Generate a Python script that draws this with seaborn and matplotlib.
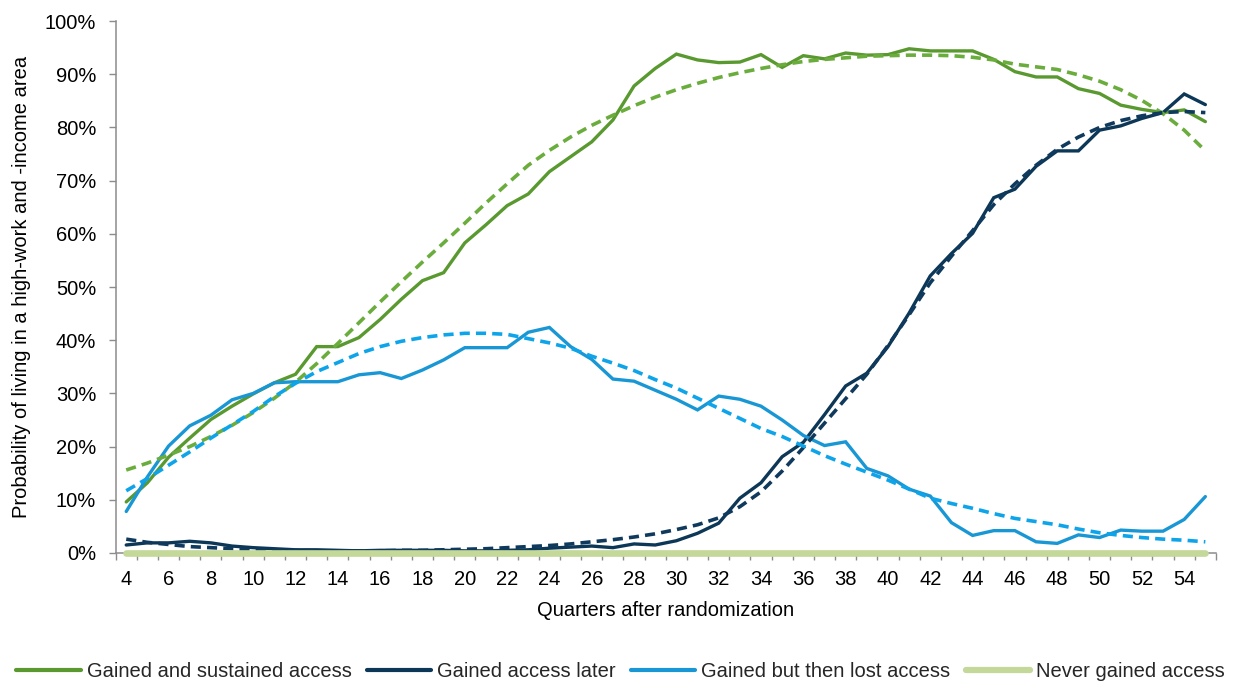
import matplotlib
matplotlib.use("Agg")
import matplotlib.pyplot as plt
from matplotlib.ticker import FixedLocator, FuncFormatter
import seaborn as sns
import pandas as pd

sns.set_theme(style="white")
plt.rcParams["font.family"] = ["Liberation Sans", "DejaVu Sans"]

quarters = list(range(4, 56))

# Share of households (in %) living in a high-work and -income area, by quarter
sustained = [9.6, 13.2, 18.0, 21.6, 25.1, 27.6, 29.9, 32.0, 33.6, 38.8,
             38.8, 40.5, 43.9, 47.7, 51.2, 52.7, 58.3, 61.7, 65.3, 67.5,
             71.7, 74.5, 77.3, 81.4, 87.8, 91.1, 93.8, 92.7, 92.2, 92.3,
             93.7, 91.3, 93.5, 92.9, 94.0, 93.6, 93.7, 94.8, 94.4, 94.4,
             94.4, 92.8, 90.5, 89.5, 89.5, 87.3, 86.4, 84.2, 83.4, 82.8,
             83.3, 81.1]
later = [1.5, 1.9, 1.9, 2.2, 1.9, 1.3, 1.0, 0.8, 0.6, 0.6,
         0.5, 0.4, 0.5, 0.5, 0.5, 0.5, 0.4, 0.4, 0.5, 0.6,
         0.9, 1.1, 1.3, 1.0, 1.7, 1.5, 2.3, 3.7, 5.6, 10.3,
         13.2, 18.1, 20.8, 26.0, 31.4, 33.8, 38.8, 45.1, 52.1, 56.3,
         60.1, 66.8, 68.4, 72.7, 75.6, 75.6, 79.5, 80.3, 81.7, 82.8,
         86.3, 84.3]
lost = [7.8, 14.3, 20.1, 23.9, 25.9, 28.8, 30.0, 32.0, 32.2, 32.2,
        32.2, 33.5, 33.9, 32.8, 34.4, 36.3, 38.6, 38.6, 38.6, 41.5,
        42.4, 38.8, 36.4, 32.7, 32.3, 30.6, 28.9, 26.9, 29.5, 28.9,
        27.6, 25.0, 22.1, 20.2, 20.9, 15.9, 14.5, 12.0, 10.7, 5.7,
        3.3, 4.2, 4.2, 2.1, 1.8, 3.4, 2.9, 4.3, 4.1, 4.1,
        6.3, 10.6]
never = [0.0] * len(quarters)

# Fitted trend curves for the first three groups
sustained_trend = [15.6, 16.9, 18.4, 20.0, 21.9, 24.0, 26.4, 29.1, 32.1, 35.6,
                   39.4, 43.3, 47.2, 51.0, 54.7, 58.3, 62.0, 65.8, 69.4, 72.9,
                   75.7, 78.2, 80.4, 82.3, 84.1, 85.7, 87.1, 88.3, 89.4, 90.3,
                   91.1, 91.8, 92.4, 92.8, 93.1, 93.4, 93.5, 93.6, 93.6, 93.5,
                   93.2, 92.7, 91.9, 91.4, 90.9, 89.9, 88.7, 87.1, 85.1, 82.6,
                   79.5, 75.6]
later_trend = [2.6, 2.0, 1.6, 1.2, 1.0, 0.8, 0.6, 0.5, 0.5, 0.4,
               0.4, 0.4, 0.4, 0.5, 0.5, 0.6, 0.7, 0.8, 1.0, 1.2,
               1.4, 1.7, 2.1, 2.5, 3.0, 3.6, 4.4, 5.3, 6.6, 8.7,
               11.5, 15.4, 19.8, 24.4, 29.0, 33.6, 39.0, 44.8, 50.8, 55.8,
               60.6, 65.5, 69.4, 72.9, 75.9, 78.2, 80.0, 81.3, 82.2, 82.8,
               83.0, 82.8]
lost_trend = [11.7, 14.0, 16.5, 19.0, 21.6, 24.1, 26.6, 29.4, 31.9, 34.1,
              35.8, 37.5, 38.8, 39.8, 40.5, 41.0, 41.3, 41.3, 41.1, 40.3,
              39.5, 38.5, 37.0, 35.7, 34.3, 32.6, 31.0, 29.1, 27.2, 25.3,
              23.4, 21.9, 20.1, 18.3, 16.7, 15.2, 13.7, 12.0, 10.3, 9.3,
              8.4, 7.4, 6.5, 5.9, 5.3, 4.5, 3.8, 3.3, 2.9, 2.6,
              2.4, 2.1]

series_labels = ["Gained and sustained access", "Gained access later",
                 "Gained but then lost access", "Never gained access"]

df = pd.DataFrame({
    "quarter": quarters,
    "sustained": sustained, "later": later, "lost": lost, "never": never,
    "sustained_trend": sustained_trend, "later_trend": later_trend,
    "lost_trend": lost_trend,
})

GREEN = "#59992f"
GREEN_T = "#6aad3d"
NAVY = "#0c3757"
NAVY_T = "#0f3a5e"
BLUE = "#1997d5"
BLUE_T = "#0ea4ea"
PALE = "#c4d89a"
AXIS = "#8c8c8c"
FS = 14.5

fig = plt.figure(figsize=(12.41, 6.81), dpi=100)
ax = fig.add_axes([0.0932, 0.188, 0.8866, 0.781])

solid_kw = dict(linewidth=2.4, solid_joinstyle="miter")
sns.lineplot(data=df, x="quarter", y="sustained", ax=ax, color=GREEN,
             label=series_labels[0], **solid_kw)
sns.lineplot(data=df, x="quarter", y="later", ax=ax, color=NAVY,
             label=series_labels[1], **solid_kw)
sns.lineplot(data=df, x="quarter", y="lost", ax=ax, color=BLUE,
             label=series_labels[2], **solid_kw)

for col, c in [("sustained_trend", GREEN_T), ("later_trend", NAVY_T),
               ("lost_trend", BLUE_T)]:
    sns.lineplot(data=df, x="quarter", y=col, ax=ax, color=c,
                 linewidth=2.6, legend=False)
    ax.lines[-1].set_dashes((2.8, 1.7))
    ax.lines[-1].set_dash_capstyle("butt")

sns.lineplot(data=df, x="quarter", y="never", ax=ax, color=PALE,
             linewidth=4.8, label=series_labels[3], solid_capstyle="round")
ax.lines[-1].set_clip_on(False)
ax.lines[-1].set_zorder(5)

# Axes ranges and ticks
ax.set_xlim(3.5, 55.5)
ax.set_ylim(0, 100)
ax.xaxis.set_major_locator(FixedLocator(list(range(4, 55, 2))))
ax.xaxis.set_minor_locator(FixedLocator([q + 0.5 for q in range(3, 56)]))
ax.yaxis.set_major_locator(FixedLocator(list(range(0, 101, 10))))
ax.yaxis.set_major_formatter(FuncFormatter(lambda v, p: f"{v:.0f}%"))
ax.tick_params(axis="x", which="major", length=0, labelsize=FS,
               pad=12, labelcolor="black")
ax.tick_params(axis="x", which="minor", length=5, width=1, color=AXIS,
               direction="out", bottom=True)
ax.tick_params(axis="y", which="major", length=5, width=1, color=AXIS,
               direction="out", left=True, labelsize=FS, pad=9,
               labelcolor="black")

for side in ["top", "right"]:
    ax.spines[side].set_visible(False)
for side in ["left", "bottom"]:
    ax.spines[side].set_color(AXIS)
    ax.spines[side].set_linewidth(1.1)
ax.grid(False)

ax.set_xlabel("Quarters after randomization", fontsize=FS, labelpad=9,
              color="black")
ax.set_ylabel("Probability of living in a high-work and -income area",
              fontsize=FS, labelpad=10, color="black")

# Legend below the plot
handles, labels = ax.get_legend_handles_labels()
ax.legend_.remove()
leg = fig.legend(handles, labels, loc="lower center", ncol=4,
                 bbox_to_anchor=(0.5, -0.027), frameon=False,
                 fontsize=FS, handlelength=3.2, handletextpad=0.3,
                 columnspacing=0.75)
for h in leg.get_lines():
    h.set_linewidth(3.0)
leg.get_lines()[-1].set_linewidth(4.5)

fig.savefig("out.png", dpi=100, facecolor="white")
